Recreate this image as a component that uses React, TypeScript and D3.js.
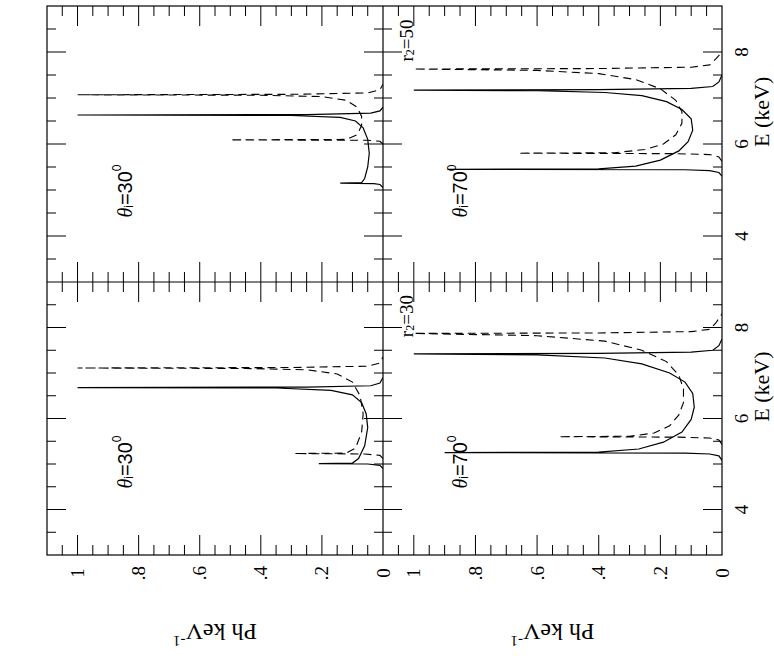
import React from 'react';
import * as d3 from 'd3';

type Pt = [number, number]; // [energy keV, photons keV^-1]

const valueTicks = [0, 0.2, 0.4, 0.6, 0.8, 1];
const valueTickLabels = ['0', '.2', '.4', '.6', '.8', '1'];
const energyTicks = [4, 6, 8];
const energyTickLabels = ['4', '6', '8'];
const radiusLabels = ['50', '30'];
const angleLabels = ['30', '70'];

// r2=50, theta=30
const tlSolid: Pt[] = [[5.05,0],[5.12,0.01],[5.14,0.03],[5.15,0.14],[5.16,0.07],[5.25,0.06],[5.5,0.05],[5.8,0.045],[6.1,0.05],[6.35,0.065],[6.5,0.09],[6.58,0.14],[6.62,0.3],[6.63,1.0],[6.64,0.25],[6.67,0.04],[6.72,0.01],[6.8,0]];
const tlDashed: Pt[] = [[6.0,0],[6.06,0.01],[6.08,0.05],[6.09,0.5],[6.1,0.12],[6.2,0.085],[6.4,0.07],[6.6,0.07],[6.8,0.085],[6.95,0.12],[7.03,0.2],[7.06,0.4],[7.07,1.0],[7.08,0.3],[7.11,0.05],[7.18,0.01],[7.3,0]];
// r2=50, theta=70
const trSolid: Pt[] = [[5.3,0],[5.38,0.01],[5.42,0.04],[5.44,0.12],[5.45,0.89],[5.46,0.4],[5.52,0.28],[5.65,0.2],[5.85,0.14],[6.05,0.11],[6.3,0.095],[6.55,0.1],[6.75,0.13],[6.92,0.18],[7.05,0.26],[7.12,0.38],[7.16,0.6],[7.17,1.0],[7.18,0.4],[7.21,0.1],[7.25,0.03],[7.35,0.01],[7.5,0]];
const trDashed: Pt[] = [[5.62,0],[5.72,0.01],[5.77,0.04],[5.79,0.15],[5.8,0.66],[5.81,0.35],[5.88,0.25],[6.0,0.19],[6.2,0.15],[6.45,0.13],[6.7,0.13],[6.95,0.15],[7.2,0.2],[7.4,0.28],[7.53,0.4],[7.6,0.6],[7.63,1.0],[7.64,0.4],[7.67,0.1],[7.72,0.04],[7.85,0.02],[8.0,0]];
// r2=30, theta=30
const blSolid: Pt[] = [[4.9,0],[4.97,0.01],[5.0,0.05],[5.01,0.21],[5.02,0.1],[5.12,0.08],[5.4,0.06],[5.8,0.05],[6.1,0.055],[6.35,0.07],[6.52,0.1],[6.62,0.17],[6.67,0.35],[6.68,1.0],[6.69,0.25],[6.72,0.04],[6.78,0.01],[6.9,0]];
const blDashed: Pt[] = [[5.12,0],[5.19,0.01],[5.22,0.06],[5.23,0.29],[5.24,0.12],[5.35,0.09],[5.7,0.07],[6.1,0.065],[6.5,0.075],[6.8,0.1],[6.98,0.15],[7.07,0.25],[7.1,0.45],[7.11,1.0],[7.12,0.3],[7.15,0.05],[7.22,0.01],[7.35,0]];
// r2=30, theta=70
const brSolid: Pt[] = [[5.08,0],[5.18,0.01],[5.22,0.04],[5.24,0.12],[5.25,0.9],[5.26,0.4],[5.33,0.27],[5.48,0.19],[5.7,0.13],[5.98,0.1],[6.25,0.09],[6.55,0.095],[6.8,0.12],[7.0,0.17],[7.2,0.26],[7.33,0.38],[7.4,0.6],[7.42,1.0],[7.43,0.4],[7.46,0.1],[7.5,0.03],[7.6,0.01],[7.75,0]];
const brDashed: Pt[] = [[5.43,0],[5.53,0.01],[5.57,0.04],[5.59,0.14],[5.6,0.53],[5.61,0.3],[5.68,0.22],[5.84,0.17],[6.08,0.14],[6.35,0.125],[6.65,0.125],[6.95,0.14],[7.25,0.18],[7.5,0.26],[7.7,0.38],[7.82,0.6],[7.87,1.0],[7.88,0.4],[7.91,0.1],[7.96,0.04],[8.1,0.02],[8.3,0]];

const W = 774, H = 658;
const colEdges = [47, 383, 722];
const rowEdges = [6, 282, 555];
const serif = '"Liberation Serif", "Times New Roman", serif';
const sans = '"Liberation Sans", Arial, sans-serif';

const panels = [
  { row: 0, col: 0, solid: tlSolid, dashed: tlDashed },
  { row: 0, col: 1, solid: trSolid, dashed: trDashed },
  { row: 1, col: 0, solid: blSolid, dashed: blDashed },
  { row: 1, col: 1, solid: brSolid, dashed: brDashed },
];

const minorValues = d3.range(1, 22).map(i => +(i * 0.05).toFixed(2));
const minorEnergies = d3.range(7, 18).map(i => i * 0.5);

function Panel({ row, col, solid, dashed }: { row: number; col: number; solid: Pt[]; dashed: Pt[] }) {
  const x0 = colEdges[col], x1 = colEdges[col + 1];
  const y0 = rowEdges[row], y1 = rowEdges[row + 1];
  const x = d3.scaleLinear().domain([0, 1.1]).range([x1, x0]);
  const y = d3.scaleLinear().domain([3, 9]).range([y1, y0]);
  const line = d3.line<Pt>().x(d => x(d[1])).y(d => y(d[0]));
  const isMajorV = (v: number) => Math.abs(v * 5 - Math.round(v * 5)) < 1e-6;
  const isMajorE = (e: number) => e % 2 === 0;
  return (
    <g>
      <g clipPath={`url(#clip-${row}-${col})`}>
        <path d={line(dashed) || ''} fill="none" stroke="#000" strokeWidth={1.1} strokeDasharray="8,5" />
        <path d={line(solid) || ''} fill="none" stroke="#000" strokeWidth={1.2} />
      </g>
      {minorValues.map(v => {
        const len = isMajorV(v) ? 20 : 10;
        const xv = x(v);
        return (
          <g key={'v' + v}>
            <line x1={xv} x2={xv} y1={y0} y2={y0 + len} stroke="#000" strokeWidth={1} />
            <line x1={xv} x2={xv} y1={y1} y2={y1 - len} stroke="#000" strokeWidth={1} />
          </g>
        );
      })}
      {minorEnergies.map(e => {
        const len = isMajorE(e) ? 19 : 9;
        const ye = y(e);
        return (
          <g key={'e' + e}>
            <line x1={x0} x2={x0 + len} y1={ye} y2={ye} stroke="#000" strokeWidth={1} />
            <line x1={x1} x2={x1 - len} y1={ye} y2={ye} stroke="#000" strokeWidth={1} />
          </g>
        );
      })}
      <text
        transform={`translate(${col === 0 ? 125 : 460},${row === 0 ? 191 : 462}) rotate(-90)`}
        textAnchor="middle" dominantBaseline="central"
        fontFamily={sans} fontSize={20}
      >
        <tspan fontStyle="italic" fontFamily={serif}>θ</tspan>
        <tspan fontSize={12} dy={4}>i</tspan>
        <tspan dy={-4}>{'=' + angleLabels[col]}</tspan>
        <tspan fontSize={12} dy={-8}>0</tspan>
      </text>
    </g>
  );
}

export default function App() {
  return (
    <svg width={W} height={H} style={{ position: 'absolute', left: 0, top: 0, background: '#fff' }}>
      <defs>
        {panels.map(p => (
          <clipPath key={`c${p.row}${p.col}`} id={`clip-${p.row}-${p.col}`}>
            <rect x={colEdges[p.col]} y={rowEdges[p.row]} width={colEdges[p.col + 1] - colEdges[p.col]} height={rowEdges[p.row + 1] - rowEdges[p.row]} />
          </clipPath>
        ))}
      </defs>
      <rect width={W} height={H} fill="#fff" />
      {panels.map(p => <Panel key={`${p.row}${p.col}`} {...p} />)}
      <rect x={colEdges[0]} y={rowEdges[0]} width={colEdges[2] - colEdges[0]} height={rowEdges[2] - rowEdges[0]} fill="none" stroke="#000" strokeWidth={1.2} />
      <line x1={colEdges[1]} x2={colEdges[1]} y1={rowEdges[0]} y2={rowEdges[2]} stroke="#000" strokeWidth={1.2} />
      <line x1={colEdges[0]} x2={colEdges[2]} y1={rowEdges[1]} y2={rowEdges[1]} stroke="#000" strokeWidth={1.2} />
      {[0, 1].map(col => {
        const x = d3.scaleLinear().domain([0, 1.1]).range([colEdges[col + 1], colEdges[col]]);
        return (
          <g key={'vl' + col} fontFamily={serif}>
            {valueTicks.map((v, i) => (
              <text key={v} transform={`translate(${x(v)},573) rotate(-90)`} textAnchor="middle" dominantBaseline="central" fontSize={19}>
                {valueTickLabels[i]}
              </text>
            ))}
            <text transform={`translate(${(colEdges[col] + colEdges[col + 1]) / 2},632) rotate(180)`} textAnchor="middle" dominantBaseline="central" fontSize={24}>
              Ph keV<tspan fontSize={15} dy={-9}>-1</tspan>
            </text>
          </g>
        );
      })}
      {[0, 1].map(row => {
        const y = d3.scaleLinear().domain([3, 9]).range([rowEdges[row + 1], rowEdges[row]]);
        return (
          <g key={'el' + row} fontFamily={serif}>
            {energyTicks.map((e, i) => (
              <text key={e} transform={`translate(741,${y(e)}) rotate(-90)`} textAnchor="middle" dominantBaseline="central" fontSize={19}>
                {energyTickLabels[i]}
              </text>
            ))}
            <text transform={`translate(761,${y(6.7)}) rotate(-90)`} textAnchor="middle" dominantBaseline="central" fontSize={22}>
              E (keV)
            </text>
            <text transform={`translate(406,${y(8.25)}) rotate(-90)`} textAnchor="middle" dominantBaseline="central" fontSize={19}>
              r<tspan fontSize={12} dy={4}>2</tspan><tspan dy={-4}>{'=' + radiusLabels[row]}</tspan>
            </text>
          </g>
        );
      })}
    </svg>
  );
}
